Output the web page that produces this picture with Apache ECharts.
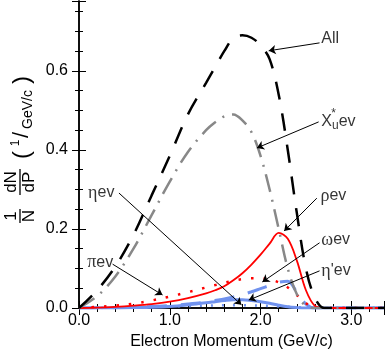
<!DOCTYPE html>
<html>
<head>
<meta charset="utf-8">
<script src="https://cdn.jsdelivr.net/npm/echarts@6/dist/echarts.min.js"></script>
<style>
  html, body { margin: 0; padding: 0; background: #fff; }
  #chart { width: 387px; height: 355px; }
</style>
</head>
<body>
<div id="chart"></div>
<script>
// ── Data ─────────────────────────────────────────────────────────────────────
const momentum = [0, 0.2, 0.4, 0.6, 0.8, 1.0, 1.2, 1.4, 1.5, 1.6, 1.7, 1.8, 1.9,
                  2.0, 2.1, 2.2, 2.3, 2.4, 2.5, 2.6, 2.7, 2.8, 3.36];

const allEv   = [0, 0.045, 0.105, 0.185, 0.285, 0.385, 0.49, 0.57, 0.61, 0.65, 0.683, 0.69, 0.684,
                 0.665, 0.63, 0.54, 0.4, 0.24, 0.1, 0.025, 0, 0, 0];
const xuEv    = [0, 0.03, 0.08, 0.15, 0.235, 0.32, 0.395, 0.45, 0.47, 0.485, 0.49, 0.475, 0.445,
                 0.385, 0.3, 0.2, 0.1, 0.035, 0.005, 0, 0, 0, 0];
const rhoEv   = [0, 0.001, 0.003, 0.006, 0.01, 0.016, 0.025, 0.037, 0.045, 0.055, 0.07, 0.088, 0.11,
                 0.135, 0.163, 0.19, 0.175, 0.12, 0.045, 0.005, 0, 0, 0];
const piEv    = [0, 0.003, 0.006, 0.011, 0.019, 0.029, 0.04, 0.052, 0.058, 0.064, 0.069, 0.073, 0.075,
                 0.075, 0.072, 0.065, 0.052, 0.033, 0.012, 0.002, 0, 0, 0];
const omegaEv = [0, 0.0005, 0.001, 0.002, 0.004, 0.006, 0.01, 0.015, 0.019, 0.023, 0.028, 0.034, 0.041,
                 0.049, 0.057, 0.065, 0.068, 0.04, 0.01, 0, 0, 0, 0];
const etaPEv  = [0, 0, 0, 0.001, 0.002, 0.004, 0.008, 0.013, 0.016, 0.019, 0.021, 0.021, 0.019,
                 0.016, 0.012, 0.007, 0.003, 0.001, 0, 0, 0, 0, 0];
const etaEv   = [0, 0, 0.001, 0.002, 0.003, 0.004, 0.005, 0.006, 0.0065, 0.007, 0.007, 0.007, 0.0065,
                 0.006, 0.005, 0.004, 0.003, 0.002, 0.001, 0, 0, 0, 0];

const xTicks = [0, 1, 2, 3];
const yTicks = [0, 0.2, 0.4, 0.6];

// annotation texts, text anchors and arrows (data coords)
const noteLabels = ['All', 'Xuev', '*', 'ρev', 'ωev', "η'ev", 'ηev', 'πev'];
const noteAt = [[2.67, 0.682], [2.67, 0.471], [2.78, 0.492], [2.66, 0.284],
                [2.67, 0.172], [2.67, 0.094], [0.1, 0.291], [0.09, 0.116]];
const arrowFrom = [[2.65, 0.671], [2.64, 0.471], [2.62, 0.278], [2.65, 0.165],
                   [2.65, 0.094], [0.44, 0.291], [0.37, 0.111]];
const arrowTo   = [[2.09, 0.651], [1.96, 0.405], [2.26, 0.195], [2.02, 0.066],
                   [1.87, 0.02], [1.79, 0.008], [0.92, 0.033]];
const arrowBend = [0.1, 0.1, 0.12, 0.04, 0.04, -0.15, -0.25];

const X_MAX = 3.36;
const Y_MAX = 0.777;
const FONT = 'Liberation Sans';

// ── Series styles ────────────────────────────────────────────────────────────
const BLUE = '#7092ee';
const curves = [
  { values: etaEv,   color: BLUE,   width: 2.5, dash: [2, 9] },
  { values: etaPEv,  color: BLUE,   width: 3,   dash: 'solid' },
  { values: omegaEv, color: BLUE,   width: 3,   dash: [20, 14] },
  { values: piEv,    color: '#f00', width: 2.5, dash: [2.5, 10] },
  { values: rhoEv,   color: '#f00', width: 1.8, dash: 'solid' },
  { values: xuEv,    color: '#888', width: 2.5, dash: [18, 8, 2, 8] },
  { values: allEv,   color: '#000', width: 2.5, dash: [18, 14] },
];

const series = curves.map(c => ({
  type: 'line',
  data: momentum.map((x, i) => [x, c.values[i]]),
  smooth: 0.35,
  showSymbol: false,
  silent: true,
  lineStyle: { color: c.color, width: c.width, type: c.dash, cap: 'butt' },
}));

function richLabel(s) {
  if (s === 'Xuev') return '{t|X}{sub|u}{t|ev}';
  if (s === '*') return '{star|*}';
  const m = s.match(/^([ηπρω])(.*)$/);
  return m ? `{g|${m[1]}}{t|${m[2]}}` : `{t|${s}}`;
}

series.push({
  type: 'scatter',
  silent: true,
  symbolSize: 0,
  data: noteLabels.map((n, i) => ({ name: n, value: noteAt[i] })),
  label: {
    show: true,
    position: 'right',
    distance: 0,
    formatter: p => richLabel(p.name),
    rich: {
      t:    { fontFamily: FONT, fontSize: 16, color: '#000', lineHeight: 20 },
      g:    { fontFamily: 'Liberation Serif', fontSize: 18, color: '#000', lineHeight: 20 },
      sub:  { fontFamily: FONT, fontSize: 12, color: '#000', lineHeight: 20, verticalAlign: 'bottom' },
      star: { fontFamily: FONT, fontSize: 12, color: '#000' },
    },
  },
  markLine: {
    silent: true,
    animation: false,
    symbol: ['none', 'arrow'],
    symbolSize: 7,
    label: { show: false },
    lineStyle: { color: '#000', width: 1, type: 'solid' },
    data: arrowFrom.map((a, i) => [
      { coord: a, lineStyle: { curveness: arrowBend[i] } },
      { coord: arrowTo[i] },
    ]),
  },
});

// ── Axes ─────────────────────────────────────────────────────────────────────
const frame = { show: true, lineStyle: { color: '#000', width: 1.5 } };
const tickLabel = { fontFamily: FONT, fontSize: 16, color: '#000' };

function axisPair(kind, pos, max, major, minor, labels) {
  const base = { type: 'value', min: 0, max, position: pos, splitLine: { show: false } };
  return [
    Object.assign({}, base, {
      interval: major,
      axisLine: frame,
      axisTick: { show: true, inside: true, length: 7, lineStyle: { color: '#000', width: 1 } },
      axisLabel: labels
        ? Object.assign({ margin: kind === 'x' ? 5 : 11,
            formatter: v => (labels.some(t => Math.abs(t - v) < 1e-6) ? v.toFixed(1) : '') }, tickLabel)
        : { show: false },
    }),
    Object.assign({}, base, {
      interval: minor,
      axisLine: { show: false },
      axisTick: { show: true, inside: true, length: 4, lineStyle: { color: '#000', width: 1 } },
      axisLabel: { show: false },
    }),
  ];
}

const xAxes = [
  ...axisPair('x', 'bottom', X_MAX, 1, 0.2, xTicks),
  ...axisPair('x', 'top', X_MAX, 1, 0.2, null),
];
xAxes[0].name = 'Electron Momentum (GeV/c)';
xAxes[0].nameLocation = 'middle';
xAxes[0].nameGap = 25;
xAxes[0].nameTextStyle = { fontFamily: FONT, fontSize: 16, color: '#000' };

const yAxes = [
  ...axisPair('y', 'left', Y_MAX, 0.2, 0.05, yTicks),
  ...axisPair('y', 'right', Y_MAX, 0.2, 0.05, null),
];

// ── Rotated y-axis title: 1/N dN/dP (1/GeV/c) ───────────────────────────────
function txt(x, y, text, size, align, valign) {
  return { type: 'text', x, y, style: { text, fontFamily: FONT, fontSize: size, fill: '#000',
           align, verticalAlign: valign } };
}
function bar(x1, x2) {
  return { type: 'line', shape: { x1, y1: 0, x2, y2: 0 }, style: { stroke: '#000', lineWidth: 1.3 } };
}
const yTitle = {
  type: 'group',
  x: 20, y: 229,
  rotation: Math.PI / 2,
  silent: true,
  children: [
    txt(13, 0, '1', 17, 'center', 'bottom'),
    bar(6, 20),
    txt(13, 1, 'N', 17, 'center', 'top'),
    txt(47, 0, 'dN', 17, 'center', 'bottom'),
    bar(34, 60),
    txt(47, 1, 'dP', 17, 'center', 'top'),
    txt(74, 2, '(', 24, 'center', 'middle'),
    txt(86, -4, '1', 12, 'center', 'middle'),
    txt(94, 2, '/', 22, 'center', 'middle'),
    txt(100, 8, 'GeV/c', 14, 'left', 'middle'),
    txt(149, 2, ')', 24, 'center', 'middle'),
  ],
};

const chart = echarts.init(document.getElementById('chart'), null, { renderer: 'canvas' });
chart.setOption({
  animation: false,
  backgroundColor: '#fff',
  grid: { left: 79, right: 1, top: 1, bottom: 47, containLabel: false },
  xAxis: xAxes,
  yAxis: yAxes,
  series,
  graphic: [yTitle],
});
</script>
</body>
</html>
